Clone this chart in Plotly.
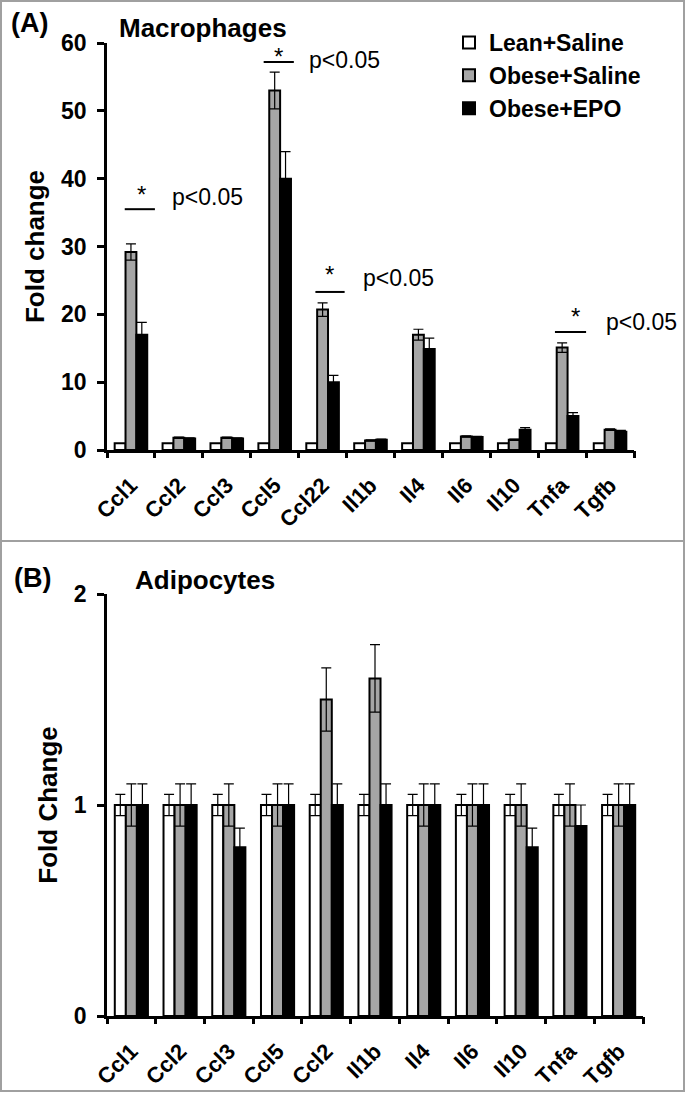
import plotly.graph_objects as go

# ---------------- data ----------------
groups = ["Lean+Saline", "Obese+Saline", "Obese+EPO"]

genes_top = ["Ccl1", "Ccl2", "Ccl3", "Ccl5", "Ccl22", "Il1b", "Il4", "Il6", "Il10", "Tnfa", "Tgfb"]
top_lean = [1, 1, 1, 1, 1, 1, 1, 1, 1, 1, 1]
top_obese = [29.2, 1.8, 1.8, 53.0, 20.7, 1.4, 17.0, 2.0, 1.5, 15.1, 3.0]
top_epo = [17.0, 1.7, 1.7, 40.0, 10.0, 1.5, 14.9, 1.9, 3.0, 5.0, 2.7]
top_obese_err = [1.2, 0.1, 0.1, 2.7, 1.0, 0.1, 0.8, 0.1, 0.1, 0.7, 0.1]
top_epo_err = [1.8, 0.1, 0.1, 4.0, 1.0, 0.1, 1.6, 0.1, 0.3, 0.5, 0.2]

genes_bottom = ["Ccl1", "Ccl2", "Ccl3", "Ccl5", "Ccl2", "Il1b", "Il4", "Il6", "Il10", "Tnfa", "Tgfb"]
bot_lean = [1, 1, 1, 1, 1, 1, 1, 1, 1, 1, 1]
bot_obese = [1, 1, 1, 1, 1.5, 1.6, 1, 1, 1, 1, 1]
bot_epo = [1, 1, 0.8, 1, 1, 1, 1, 1, 0.8, 0.9, 1]
bot_lean_err = [0.05, 0.05, 0.05, 0.05, 0.05, 0.05, 0.05, 0.05, 0.05, 0.05, 0.05]
bot_obese_err = [0.1, 0.1, 0.1, 0.1, 0.15, 0.16, 0.1, 0.1, 0.1, 0.1, 0.1]
bot_epo_err = [0.1, 0.1, 0.09, 0.1, 0.1, 0.1, 0.1, 0.1, 0.09, 0.1, 0.1]

sig_genes = ["Ccl1", "Ccl5", "Ccl22", "Tnfa"]
sig_line_y = [35.5, 57.2, 23.3, 17.4]
sig_label = "p<0.05"

y_ticks_top = [0, 10, 20, 30, 40, 50, 60]
y_ticks_bot = [0, 1, 2]

# ---------------- layout of the significance marks (offsets, in axis units) ----------------
sig_line_x0 = [-0.13, -0.23, -0.15, -0.15]
sig_line_x1 = [0.5, 0.4, 0.46, 0.5]
sig_star_dx = [0.21, 0.08, 0.15, 0.27]
sig_star_dy = [-0.15, -1.5, 0.3, 0.0]
sig_p_dx = [0.81, 0.67, 0.81, 0.87]
sig_p_dy = [1.77, 0.3, 2.06, 1.47]

# ---------------- styling ----------------
W, H = 685, 1093
FONT = "Arial, Liberation Sans, sans-serif"
fills = ["#ffffff", "#a6a6a6", "#000000"]


def px_x(p):
    return p / W


def px_y(p):
    return 1 - p / H


top_dom_x = [px_x(107), px_x(634)]
top_dom_y = [px_y(450), px_y(43)]
bot_dom_x = [px_x(107), px_x(643)]
bot_dom_y = [px_y(1016), px_y(594)]

fig = go.Figure()

idx_top = list(range(len(genes_top)))
idx_bot = list(range(len(genes_bottom)))

top_vals = [top_lean, top_obese, top_epo]
top_errs = [None, top_obese_err, top_epo_err]
for g, vals, err, col in zip(groups, top_vals, top_errs, fills):
    fig.add_trace(go.Bar(
        x=idx_top, y=vals, name=g, xaxis="x", yaxis="y",
        marker=dict(color=col, line=dict(color="black", width=2)),
        error_y=(dict(type="data", array=err, visible=True, color="black", thickness=1.2, width=5)
                 if err is not None else dict(visible=False)),
        legendgroup=g, showlegend=True,
    ))

bot_vals = [bot_lean, bot_obese, bot_epo]
bot_errs = [bot_lean_err, bot_obese_err, bot_epo_err]
for g, vals, err, col in zip(groups, bot_vals, bot_errs, fills):
    fig.add_trace(go.Bar(
        x=idx_bot, y=vals, name=g, xaxis="x2", yaxis="y2",
        marker=dict(color=col, line=dict(color="black", width=2)),
        error_y=dict(type="data", array=err, visible=True, color="black", thickness=1.2, width=5),
        legendgroup=g, showlegend=False,
    ))

# invisible helper traces so the overlaying boundary-tick axes get drawn
fig.add_trace(go.Scatter(x=idx_top, y=top_lean, xaxis="x3", yaxis="y", mode="markers",
                         marker=dict(opacity=0), hoverinfo="skip", showlegend=False))
fig.add_trace(go.Scatter(x=idx_bot, y=bot_lean, xaxis="x4", yaxis="y2", mode="markers",
                         marker=dict(opacity=0), hoverinfo="skip", showlegend=False))

tickfont = dict(family=FONT, size=23, color="black", weight="bold")
xtickfont = dict(family=FONT, size=22, color="black", weight="bold")


def xaxis_cfg(dom, labels, anchor):
    return dict(
        domain=dom, anchor=anchor, range=[-0.5, len(labels) - 0.5],
        tickmode="array", tickvals=list(range(len(labels))), ticktext=labels,
        ticks="outside", ticklen=11, tickcolor="rgba(0,0,0,0)", tickangle=-45,
        tickfont=xtickfont, showline=True, linecolor="black", linewidth=2.5,
        showgrid=False, zeroline=False, automargin=False,
    )


def xaxis_bounds_cfg(dom, labels, anchor, over):
    # category boundary ticks drawn on an overlaying axis
    return dict(
        domain=dom, anchor=anchor, overlaying=over, side="bottom", range=[-0.5, len(labels) - 0.5],
        tickmode="array", tickvals=[i - 0.5 for i in range(len(labels) + 1)],
        showticklabels=False, ticks="outside", ticklen=7, tickwidth=2.5, tickcolor="black",
        showline=False, showgrid=False, zeroline=False, automargin=False,
    )


def yaxis_cfg(dom, rng, tickvals, title, anchor, standoff):
    return dict(
        domain=dom, anchor=anchor, range=rng, tickmode="array", tickvals=tickvals,
        ticks="outside", ticklen=7, tickwidth=2.5, tickcolor="black",
        tickfont=tickfont, ticklabelstandoff=6,
        showline=True, linecolor="black", linewidth=2.5, showgrid=False, zeroline=False,
        automargin=False,
        title=dict(text=title, font=dict(family=FONT, size=26, color="black", weight="bold"),
                   standoff=standoff),
    )


annotations = []
shapes = []

# panel frames
shapes.append(dict(type="rect", xref="paper", yref="paper", x0=px_x(1), x1=px_x(684),
                   y0=px_y(541), y1=px_y(1), line=dict(color="#a0a0a0", width=2)))
shapes.append(dict(type="rect", xref="paper", yref="paper", x0=px_x(1), x1=px_x(684),
                   y0=px_y(1091), y1=px_y(541), line=dict(color="#a0a0a0", width=2)))


def text_ann(txt, x, y, size, bold=True, xanchor="center"):
    annotations.append(dict(
        text=txt, x=x, y=y, xref="paper", yref="paper", xanchor=xanchor, yanchor="middle",
        showarrow=False, font=dict(family=FONT, size=size, color="black",
                                   weight="bold" if bold else "normal")))


text_ann("(A)", px_x(9), px_y(23), 27, xanchor="left")
text_ann("Macrophages", px_x(203), px_y(28), 26)
text_ann("(B)", px_x(12), px_y(578), 27, xanchor="left")
text_ann("Adipocytes", px_x(205), px_y(580), 26)

# significance marks
for k, (gname, ly) in enumerate(zip(sig_genes, sig_line_y)):
    i = genes_top.index(gname)
    shapes.append(dict(type="line", xref="x", yref="y", x0=i + sig_line_x0[k], x1=i + sig_line_x1[k],
                       y0=ly, y1=ly, line=dict(color="black", width=2)))
    annotations.append(dict(text="*", x=i + sig_star_dx[k], y=ly + sig_star_dy[k], xref="x", yref="y",
                            xanchor="center", yanchor="bottom", showarrow=False,
                            font=dict(family=FONT, size=24, color="black")))
    annotations.append(dict(text=sig_label, x=i + sig_p_dx[k], y=ly + sig_p_dy[k], xref="x", yref="y",
                            xanchor="left", yanchor="middle", showarrow=False,
                            font=dict(family=FONT, size=23, color="black")))

fig.update_layout(
    width=W, height=H, margin=dict(l=0, r=0, t=0, b=0),
    paper_bgcolor="white", plot_bgcolor="white",
    barmode="group", bargap=0.32, bargroupgap=0,
    xaxis=xaxis_cfg(top_dom_x, genes_top, "y"),
    yaxis=yaxis_cfg(top_dom_y, [0, 60], y_ticks_top, "Fold change", "x", 9),
    xaxis2=xaxis_cfg(bot_dom_x, genes_bottom, "y2"),
    yaxis2=yaxis_cfg(bot_dom_y, [0, 2], y_ticks_bot, "Fold Change", "x2", 9),
    xaxis3=xaxis_bounds_cfg(top_dom_x, genes_top, "y", "x"),
    xaxis4=xaxis_bounds_cfg(bot_dom_x, genes_bottom, "y2", "x2"),
    legend=dict(x=px_x(449), y=px_y(21), xanchor="left", yanchor="top",
                font=dict(family=FONT, size=23, color="black", weight="bold"),
                bgcolor="rgba(0,0,0,0)", tracegroupgap=0, itemwidth=30),
    shapes=shapes, annotations=annotations,
    font=dict(family=FONT, color="black"),
)

fig.write_html("out.html", config={"displayModeBar": False},
               post_script="document.body.style.margin='0px';document.body.style.overflow='hidden';")
